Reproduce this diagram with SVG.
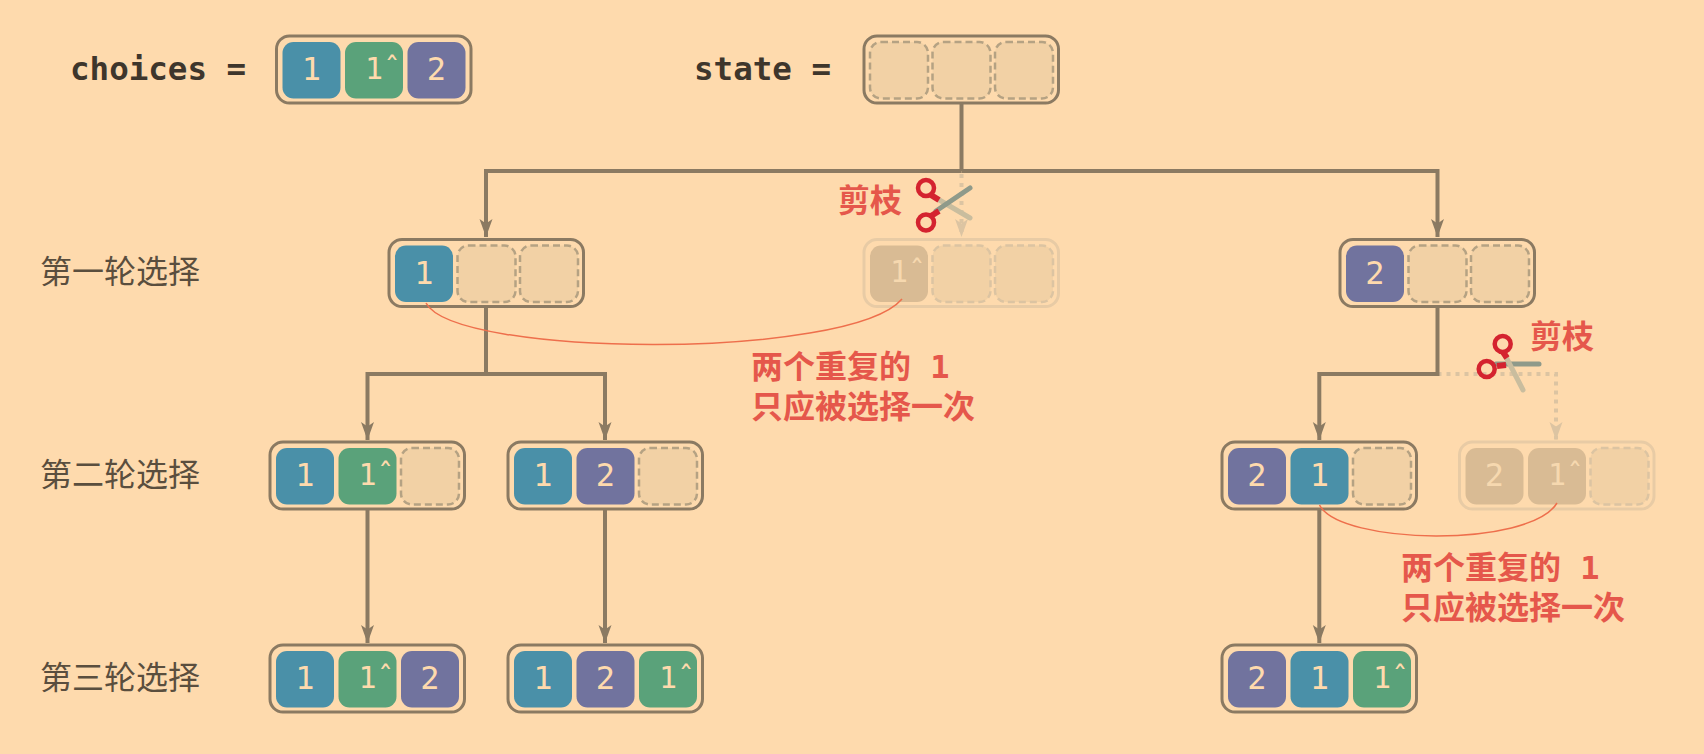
<svg xmlns="http://www.w3.org/2000/svg" width="1704" height="754" viewBox="0 0 1704 754">
<style>
text{font-family:"DejaVu Sans Mono","Noto Sans CJK SC",monospace}
.box{fill:#fedaad;stroke:#8b7a62;stroke-width:3}
.c{width:58px;height:56.5px;rx:11px;ry:11px;y:6px}
.e{fill:#f2d1a5;stroke:#b5a283;stroke-width:2.5;stroke-dasharray:7 4}
.b{fill:#4a90a8}.g{fill:#5aa27a}.p{fill:#71739e}
.d{font-size:32px;fill:#fedaad;text-anchor:middle}
.h{font-size:30px}
.f .box{stroke:#e8cba5}.f .e{stroke:#dcc4a2}.f .x{fill:#d9bb94}.f .d{fill:#f6d8af}
.l{font-size:32px;fill:#5a4e3e;font-family:"Noto Sans CJK SC",sans-serif}
.t{font-size:32.5px;font-weight:bold;fill:#3e362c}
.r{font-size:32px;font-weight:bold;fill:#e5574b}
.w{fill:none;stroke:#8b7a62;stroke-width:4}
.o{fill:none;stroke:#dcc4a2;stroke-width:4;stroke-dasharray:4 5}
.a{fill:none;stroke:#ee6f4c;stroke-width:1.5}
.sr{fill:none;stroke:#d4232f;stroke-width:4.5}
.s1{stroke:#8f9a8a;stroke-width:5;stroke-linecap:round}
.s2{stroke:#c9bd9e;stroke-width:5;stroke-linecap:round}
.sh{stroke:#d4232f;stroke-width:6}
</style>
<defs>
<marker id="ah" markerUnits="userSpaceOnUse" markerWidth="20" markerHeight="20" refX="18" refY="8" orient="auto"><path d="M18 8L0 1.5L4.5 8L0 14.5Z" fill="#8b7a62"/></marker>
<marker id="af" markerUnits="userSpaceOnUse" markerWidth="20" markerHeight="20" refX="18" refY="8" orient="auto"><path d="M18 8L0 1.5L4.5 8L0 14.5Z" fill="#dcc4a2"/></marker>
</defs>
<rect width="1704" height="754" fill="#fedaad"/>
<text class="t" x="70" y="80">choices =</text>
<text class="t" x="694" y="80">state =</text>
<text class="l" x="40" y="283">第一轮选择</text>
<text class="l" x="40" y="486">第二轮选择</text>
<text class="l" x="40" y="689">第三轮选择</text>
<g id="connectors">
<path class="o" d="M961.5 174V237" marker-end="url(#af)"/>
<path class="o" d="M1437.5 374H1556V440" marker-end="url(#af)"/>
<path class="w" d="M961.5 103V171"/>
<path class="w" d="M961.5 171H486V237" marker-end="url(#ah)"/>
<path class="w" d="M961.5 171H1437.5V237" marker-end="url(#ah)"/>
<path class="w" d="M486 306V374"/>
<path class="w" d="M486 374H367.5V440" marker-end="url(#ah)"/>
<path class="w" d="M486 374H605V440" marker-end="url(#ah)"/>
<path class="w" d="M1437.5 306V374H1319.3V440" marker-end="url(#ah)"/>
<path class="w" d="M367.5 509V643" marker-end="url(#ah)"/>
<path class="w" d="M605 509V643" marker-end="url(#ah)"/>
<path class="w" d="M1319.3 509V643" marker-end="url(#ah)"/>
</g>
<g id="choices" transform="translate(276.5 36)"><rect class="box" width="194.5" height="67" rx="13"/>
<rect class="c b" x="6"/><rect class="c g" x="68.5"/><rect class="c p" x="131"/>
<text class="d" x="35" y="44">1</text><text class="d h" x="97.5" y="42.5">1&#x302;</text><text class="d" x="160" y="44">2</text></g>
<g id="state" transform="translate(864 36)"><rect class="box" width="194.5" height="67" rx="13"/>
<rect class="c e" x="6"/><rect class="c e" x="68.5"/><rect class="c e" x="131"/></g>
<g id="n1" transform="translate(389 239.5)"><rect class="box" width="194.5" height="67" rx="13"/>
<rect class="c b" x="6"/><rect class="c e" x="68.5"/><rect class="c e" x="131"/>
<text class="d" x="35" y="44">1</text></g>
<g id="n1hat" class="f" transform="translate(864 239.5)"><rect class="box" width="194.5" height="67" rx="13"/>
<rect class="c x" x="6"/><rect class="c e" x="68.5"/><rect class="c e" x="131"/>
<text class="d h" x="35" y="42.5">1&#x302;</text></g>
<g id="n2" transform="translate(1340 239.5)"><rect class="box" width="194.5" height="67" rx="13"/>
<rect class="c p" x="6"/><rect class="c e" x="68.5"/><rect class="c e" x="131"/>
<text class="d" x="35" y="44">2</text></g>
<g id="n11" transform="translate(270 442)"><rect class="box" width="194.5" height="67" rx="13"/>
<rect class="c b" x="6"/><rect class="c g" x="68.5"/><rect class="c e" x="131"/>
<text class="d" x="35" y="44">1</text><text class="d h" x="97.5" y="42.5">1&#x302;</text></g>
<g id="n12" transform="translate(508 442)"><rect class="box" width="194.5" height="67" rx="13"/>
<rect class="c b" x="6"/><rect class="c p" x="68.5"/><rect class="c e" x="131"/>
<text class="d" x="35" y="44">1</text><text class="d" x="97.5" y="44">2</text></g>
<g id="n21" transform="translate(1222 442)"><rect class="box" width="194.5" height="67" rx="13"/>
<rect class="c p" x="6"/><rect class="c b" x="68.5"/><rect class="c e" x="131"/>
<text class="d" x="35" y="44">2</text><text class="d" x="97.5" y="44">1</text></g>
<g id="n21hat" class="f" transform="translate(1459.5 442)"><rect class="box" width="194.5" height="67" rx="13"/>
<rect class="c x" x="6"/><rect class="c x" x="68.5"/><rect class="c e" x="131"/>
<text class="d" x="35" y="44">2</text><text class="d h" x="97.5" y="42.5">1&#x302;</text></g>
<g id="n112" transform="translate(270 645)"><rect class="box" width="194.5" height="67" rx="13"/>
<rect class="c b" x="6"/><rect class="c g" x="68.5"/><rect class="c p" x="131"/>
<text class="d" x="35" y="44">1</text><text class="d h" x="97.5" y="42.5">1&#x302;</text><text class="d" x="160" y="44">2</text></g>
<g id="n121" transform="translate(508 645)"><rect class="box" width="194.5" height="67" rx="13"/>
<rect class="c b" x="6"/><rect class="c p" x="68.5"/><rect class="c g" x="131"/>
<text class="d" x="35" y="44">1</text><text class="d" x="97.5" y="44">2</text><text class="d h" x="160" y="42.5">1&#x302;</text></g>
<g id="n211" transform="translate(1222 645)"><rect class="box" width="194.5" height="67" rx="13"/>
<rect class="c p" x="6"/><rect class="c b" x="68.5"/><rect class="c g" x="131"/>
<text class="d" x="35" y="44">2</text><text class="d" x="97.5" y="44">1</text><text class="d h" x="160" y="42.5">1&#x302;</text></g>
<g id="curves">
<path class="a" d="M426 303C455 358 850 360 902 299"/>
<path class="a" d="M1319.5 505C1340 545 1530 548 1557 503"/>
</g>
<g id="scissors1">
<line class="s2" x1="936" y1="198" x2="970" y2="218"/>
<line class="s1" x1="936" y1="211" x2="970" y2="188"/>
<line class="sh" x1="931" y1="195" x2="939" y2="200"/>
<line class="sh" x1="931" y1="216" x2="939" y2="211"/>
<circle class="sr" cx="926" cy="188" r="8"/><circle class="sr" cx="926" cy="222.5" r="8"/>
</g>
<g id="scissors2">
<line class="s1" x1="1496" y1="364" x2="1539" y2="364"/>
<line class="s2" x1="1505" y1="355" x2="1523" y2="390"/>
<line class="sh" x1="1497" y1="366" x2="1506" y2="365"/>
<line class="sh" x1="1503" y1="352" x2="1507" y2="358"/>
<circle class="sr" cx="1502.7" cy="344" r="8"/><circle class="sr" cx="1486.7" cy="369" r="8"/>
</g>
<text class="r" x="838" y="212">剪枝</text>
<text class="r" x="1530" y="348">剪枝</text>
<text class="r" x="751" y="377.5">两个重复的 1</text>
<text class="r" x="751" y="417.5">只应被选择一次</text>
<text class="r" x="1401" y="578.5">两个重复的 1</text>
<text class="r" x="1401" y="618.5">只应被选择一次</text>
</svg>
